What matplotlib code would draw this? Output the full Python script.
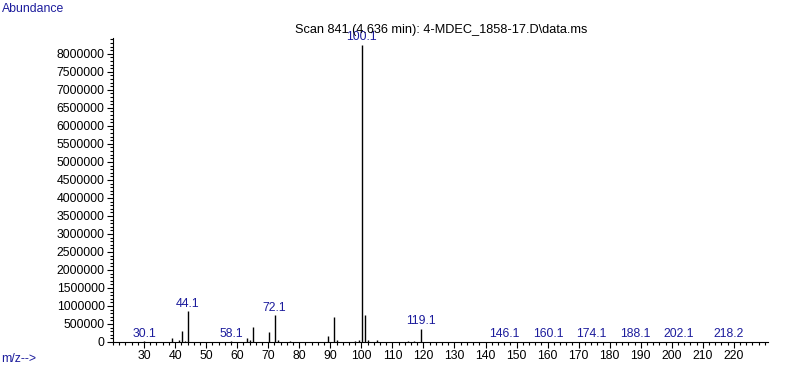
import matplotlib
matplotlib.use("Agg")
import matplotlib.pyplot as plt
from matplotlib.ticker import MultipleLocator, FuncFormatter

# ---- data ----
mz = [30.1, 39.1, 41.1, 42.1, 43.1, 44.1, 58.1, 63.1, 64.1, 65.1, 70.1, 72.1, 73.1,
      77.1, 89.1, 91.1, 92.1, 98.1, 99.1, 100.1, 101.1, 102.1, 105.1, 115.1, 117.1,
      119.1, 146.1, 160.1, 174.1, 188.1, 202.1, 218.2]
abundance = [15000, 120000, 50000, 300000, 40000, 860000, 20000, 120000, 60000, 420000,
             280000, 750000, 50000, 30000, 170000, 690000, 50000, 30000, 60000, 8250000,
             750000, 50000, 50000, 20000, 40000, 370000, 8000, 8000, 8000, 8000, 8000, 8000]
label_mz = [30.1, 44.1, 58.1, 72.1, 100.1, 119.1, 146.1, 160.1, 174.1, 188.1, 202.1, 218.2]
label_text = ["30.1", "44.1", "58.1", "72.1", "100.1", "119.1", "146.1", "160.1",
              "174.1", "188.1", "202.1", "218.2"]
title = "Scan 841 (4.636 min): 4-MDEC_1858-17.D\\data.ms"

blue = "#1c1c9c"
plt.rcParams['font.family'] = ['Liberation Sans', 'DejaVu Sans']

fig = plt.figure(figsize=(7.87, 3.67), dpi=100)
ax = fig.add_axes([113 / 787, 1 - 342 / 367, (768 - 113) / 787, (342 - 38) / 367])

ax.vlines(mz, 0, abundance, colors="black", linewidth=1.0)
for m, t in zip(label_mz, label_text):
    h = abundance[mz.index(m)]
    ax.annotate(t, (m, h), xytext=(0, 1), textcoords="offset points",
                ha="center", va="bottom", color=blue, fontsize=8.8)

ax.set_xlim(20, 231)
ax.set_ylim(0, 8440000)
ax.spines["top"].set_visible(False)
ax.spines["right"].set_visible(False)
ax.xaxis.set_major_locator(MultipleLocator(10))
ax.xaxis.set_minor_locator(MultipleLocator(2))
ax.yaxis.set_major_locator(MultipleLocator(500000))
ax.yaxis.set_minor_locator(MultipleLocator(100000))
ax.set_xticks(range(30, 230, 10))
ax.yaxis.set_major_formatter(FuncFormatter(lambda v, p: f"{int(v)}"))
ax.tick_params(axis="both", which="major", labelsize=8.8, length=4, width=0.8, pad=2)
ax.tick_params(axis="both", which="minor", length=2, width=0.8)

fig.text(441 / 787, 1 - 30 / 367, title, ha="center", va="center", fontsize=9.2, color="black")
fig.text(0.002, 1 - 9 / 367, "Abundance", ha="left", va="center", fontsize=8.8, color=blue)
fig.text(0.002, 1 - 359 / 367, "m/z-->", ha="left", va="center", fontsize=8.8, color=blue)

fig.savefig("out.png", dpi=100)
